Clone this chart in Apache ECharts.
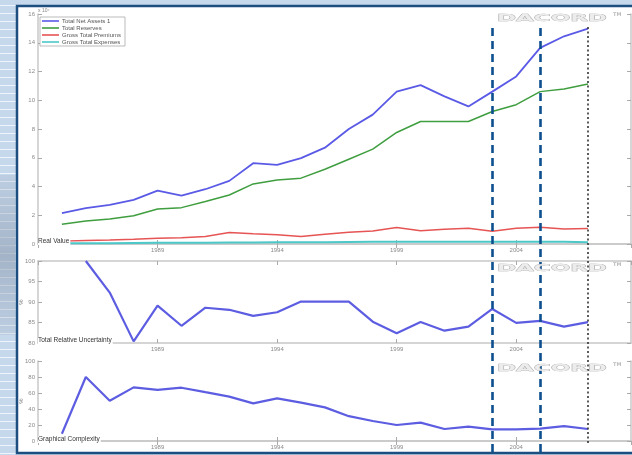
<!DOCTYPE html>
<html>
<head>
<meta charset="utf-8">
<script src="https://cdn.jsdelivr.net/npm/echarts@6/dist/echarts.min.js"></script>
<style>
html,body{margin:0;padding:0;}
body{width:632px;height:455px;overflow:hidden;
background:repeating-linear-gradient(to bottom,#c6d8ec 0px,#c6d8ec 5px,#eef4fb 5px,#eef4fb 6px,#c6d8ec 6px,#c6d8ec 8px);}
#chart{position:absolute;left:0;top:0;width:632px;height:455px;}
</style>
</head>
<body>
<div id="chart"></div>
<script>
// ---- data ----
const years = [1985,1986,1987,1988,1989,1990,1991,1992,1993,1994,1995,1996,1997,1998,1999,2000,2001,2002,2003,2004,2005,2006,2007];
const totalNetAssets = [2.14,2.49,2.72,3.07,3.71,3.37,3.81,4.39,5.62,5.5,5.97,6.7,8.0,9.0,10.6,11.05,10.27,9.57,10.6,11.66,13.64,14.45,14.98];
const totalReserves = [1.37,1.6,1.74,1.97,2.44,2.53,2.95,3.41,4.18,4.46,4.58,5.2,5.9,6.6,7.76,8.52,8.52,8.52,9.22,9.69,10.6,10.78,11.13];
const grossPremiums = [0.2,0.25,0.28,0.33,0.4,0.44,0.52,0.8,0.72,0.65,0.53,0.68,0.81,0.9,1.14,0.93,1.02,1.09,0.88,1.09,1.16,1.05,1.07];
const grossExpenses = [0.05,0.05,0.06,0.07,0.08,0.08,0.09,0.1,0.11,0.12,0.12,0.13,0.14,0.15,0.16,0.16,0.16,0.16,0.15,0.16,0.16,0.15,0.12];
const uncertainty = [null,100,92.3,80.4,89.1,84.2,88.6,88.1,86.6,87.5,90.1,90.1,90.1,85.2,82.4,85.1,83.0,84.0,88.3,84.9,85.4,84.0,85.1];
const complexity = [9,80,50.4,67,64,66.6,61,55.5,47,53.3,48,42,31,25,20,23,15,18,14.6,14.6,15.5,18.7,15];
const seriesNames = ['Total Net Assets 1','Total Reserves','Gross Total Premiums','Gross Total Expenses'];
const panelLabels = ['Real Value','Total Relative Uncertainty','Graphical Complexity'];
const markerYearsDashed = [2003,2005];
const markerYearDotted = [2007];
const xRange = [1984, 2008.8];
const yRanges = [[0,16,2],[80,100,5],[0,100,20]];

const pairs = arr => years.map((y,i)=>[y,arr[i]]);
const boxColor = '#c8c8c8';
const tickLbl = {fontSize:6,color:'#8a8a8a',fontFamily:'Liberation Sans'};

const grids = [
  {left:38,right:1,top:14,height:230},
  {left:38,right:1,top:261,height:82},
  {left:38,right:1,top:361,height:80},
  {left:38,right:1,top:25,height:427},
  {left:38,right:1,top:27,height:416}
];
const xAxes = [], yAxes = [];
for (let g=0; g<3; g++){
  xAxes.push({type:'value',gridIndex:g,position:'bottom',min:xRange[0],max:xRange[1],interval:5,
    axisLine:{lineStyle:{color:boxColor,width:1.5}},axisTick:{inside:true,length:4,lineStyle:{color:'#aaa'}},
    axisLabel:Object.assign({showMinLabel:false,showMaxLabel:false,margin:3,formatter:v=>String(v)},tickLbl),splitLine:{show:false}});
  xAxes.push({type:'value',gridIndex:g,position:'top',min:xRange[0],max:xRange[1],interval:5,
    axisLine:{lineStyle:{color:boxColor,width:1.5}},axisTick:{inside:true,length:4,lineStyle:{color:'#aaa'}},
    axisLabel:{show:false},splitLine:{show:false}});
  const r = yRanges[g];
  yAxes.push({type:'value',gridIndex:g,position:'left',min:r[0],max:r[1],interval:r[2],
    axisLine:{show:true,lineStyle:{color:boxColor,width:1.5}},axisTick:{show:true,inside:true,length:4,lineStyle:{color:'#aaa'}},
    axisLabel:Object.assign({margin:3},tickLbl),splitLine:{show:false}});
  yAxes.push({type:'value',gridIndex:g,position:'right',min:r[0],max:r[1],interval:r[2],
    axisLine:{show:true,lineStyle:{color:boxColor,width:1.5}},axisTick:{show:true,inside:true,length:4,lineStyle:{color:'#aaa'}},
    axisLabel:{show:false},splitLine:{show:false}});
}
for (let g=3; g<5; g++){
  xAxes.push({type:'value',gridIndex:g,min:xRange[0],max:xRange[1],show:false});
  yAxes.push({type:'value',gridIndex:g,min:0,max:1,show:false});
}
const series = [];
const p1 = [totalNetAssets,totalReserves,grossPremiums,grossExpenses];
const p1Colors = ['#5a5ae6','#3f9e3f','#e65454','#4cc8c8'];
const p1Widths = [1.8,1.5,1.5,2];
p1.forEach((arr,i)=>series.push({name:seriesNames[i],type:'line',xAxisIndex:0,yAxisIndex:0,data:pairs(arr),
  symbol:'none',lineStyle:{color:p1Colors[i],width:p1Widths[i]},itemStyle:{color:p1Colors[i]},z:3}));
series.push({name:'uncertainty',type:'line',xAxisIndex:2,yAxisIndex:2,data:pairs(uncertainty),symbol:'none',
  lineStyle:{color:'#5d5de2',width:2.2},z:3});
series.push({name:'complexity',type:'line',xAxisIndex:4,yAxisIndex:4,data:pairs(complexity),symbol:'none',
  lineStyle:{color:'#5d5de2',width:2.2},z:3});
series.push({name:'dashedMarks',type:'line',xAxisIndex:6,yAxisIndex:6,data:[],symbol:'none',z:6,
  markLine:{symbol:'none',silent:true,label:{show:false},animation:false,
    lineStyle:{color:'#0d4f8f',width:2.6,type:[8,5]},
    data:markerYearsDashed.map(v=>({xAxis:v}))}});
series.push({name:'dottedMarks',type:'line',xAxisIndex:7,yAxisIndex:7,data:[],symbol:'none',z:6,
  markLine:{symbol:'none',silent:true,label:{show:false},animation:false,
    lineStyle:{color:'#333',width:1.6,type:[2,2.5]},
    data:markerYearDotted.map(v=>({xAxis:v}))}});

function watermark(y){
  return [
    {type:'text',x:497,y:y,z:20,scaleX:2.55,style:{text:'DACORD',font:'bold 9px "DejaVu Sans"',fill:'#ececec',stroke:'#a0a0a0',lineWidth:0.5}},
    {type:'text',x:613,y:y-2,z:20,style:{text:'TM',font:'bold 5px "DejaVu Sans"',fill:'#bbb'}}
  ];
}
function panelText(txt,x,y){
  return {type:'text',x:x,y:y,z:10,style:{text:txt,font:'6.5px "Liberation Sans"',fill:'#333',backgroundColor:'#fff',padding:[0,1,0,0]}};
}
function yName(y){
  return {type:'text',x:18,y:y,z:10,rotation:Math.PI/2,style:{text:'%',font:'6px "Liberation Sans"',fill:'#777',align:'center',verticalAlign:'top'}};
}
const graphic = [
  {type:'rect',z:-100,silent:true,shape:{x:17,y:6,width:640,height:447},style:{fill:'#fff',stroke:'#1d4e80',lineWidth:2.5}},
  {type:'rect',z:-100,silent:true,shape:{x:0,y:175,width:15,height:160},
    style:{fill:new echarts.graphic.LinearGradient(0,0,0,1,[{offset:0,color:'rgba(150,165,185,0.2)'},{offset:0.5,color:'rgba(140,155,175,0.6)'},{offset:1,color:'rgba(150,165,185,0.2)'}])}},
  {type:'text',x:38,y:8,z:10,style:{text:'x 10⁴',font:'5px "Liberation Sans"',fill:'#888'}},
  panelText(panelLabels[0],38,238),
  panelText(panelLabels[1],38,337),
  panelText(panelLabels[2],38,436),
  yName(302), yName(401)
].concat(watermark(14),watermark(264),watermark(364));

const chart = echarts.init(document.getElementById('chart'),null,{renderer:'canvas'});
chart.setOption({
  animation:false,
  backgroundColor:'transparent',
  grid:grids, xAxis:xAxes, yAxis:yAxes, series:series, graphic:graphic,
  legend:{data:seriesNames,left:40,top:17,orient:'vertical',icon:'rect',itemWidth:17,itemHeight:1.6,itemGap:1,
    padding:[1,4,1,2],borderColor:'#aaa',borderWidth:0.8,backgroundColor:'#fff',
    textStyle:{fontSize:6,color:'#555',fontFamily:'Liberation Sans',padding:[0,0,0,-2]}}
});
</script>
</body>
</html>
